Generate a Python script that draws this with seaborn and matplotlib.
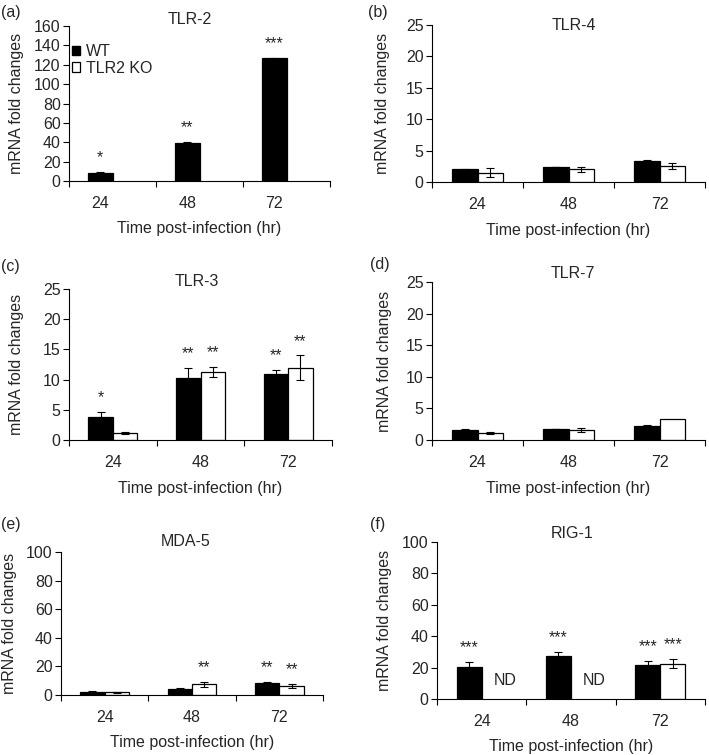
import numpy as np
import pandas as pd
import matplotlib
matplotlib.use('Agg')
import matplotlib.pyplot as plt
import seaborn as sns
from matplotlib.patches import Patch

# ---- data ----
times = ['24', '48', '72']
groups = ['WT', 'TLR2 KO']
nan = np.nan

tlr2_wt = [8.6, 39.6, 126.6]
tlr2_wt_err = [0.6, 0.6, 0.8]
tlr2_ko = [nan, nan, nan]
tlr2_ko_err = [0, 0, 0]
tlr2_wt_sig = ['*', '**', '***']
tlr2_ko_sig = ['', '', '']

tlr4_wt = [2.0, 2.4, 3.35]
tlr4_wt_err = [0.05, 0.05, 0.1]
tlr4_ko = [1.5, 2.0, 2.55]
tlr4_ko_err = [0.65, 0.45, 0.55]
tlr4_wt_sig = ['', '', '']
tlr4_ko_sig = ['', '', '']

tlr3_wt = [3.8, 10.3, 10.95]
tlr3_wt_err = [0.9, 1.6, 0.7]
tlr3_ko = [1.2, 11.2, 12.0]
tlr3_ko_err = [0.15, 0.85, 2.0]
tlr3_wt_sig = ['*', '**', '**']
tlr3_ko_sig = ['', '**', '**']

tlr7_wt = [1.6, 1.75, 2.2]
tlr7_wt_err = [0.08, 0.05, 0.12]
tlr7_ko = [1.15, 1.6, 3.3]
tlr7_ko_err = [0.15, 0.3, 0.0]
tlr7_wt_sig = ['', '', '']
tlr7_ko_sig = ['', '', '']

mda5_wt = [2.3, 4.4, 8.6]
mda5_wt_err = [0.2, 0.3, 0.5]
mda5_ko = [1.9, 7.4, 6.5]
mda5_ko_err = [0.2, 1.5, 1.5]
mda5_wt_sig = ['', '', '**']
mda5_ko_sig = ['', '**', '**']

rig1_wt = [20.7, 27.7, 21.8]
rig1_wt_err = [2.7, 2.5, 2.5]
rig1_ko = [nan, nan, 22.6]
rig1_ko_err = [0, 0, 3.0]
rig1_wt_sig = ['***', '***', '***']
rig1_ko_sig = ['', '', '***']

W, H = 709, 755
FS = 11.5

sns.set_style('ticks')
plt.rcParams['font.family'] = ['Liberation Sans', 'DejaVu Sans']
plt.rcParams['axes.linewidth'] = 0.8

fig = plt.figure(figsize=(W / 100, H / 100), dpi=100)


def px_axes(left, right, top, bottom):
    return fig.add_axes([left / W, 1 - bottom / H, (right - left) / W, (bottom - top) / H])


def draw_panel(box, letter, letter_xy, title, title_xy, ylab_x, wt, wt_err, ko, ko_err,
               wt_sig, ko_sig, ymax, ystep, show_nd=False, shift_labels=False, legend=False):
    left, right, top, bottom = box
    ax = px_axes(left, right, top, bottom)
    rows = []
    for i, t in enumerate(times):
        for g, vals in zip(groups, [wt, ko]):
            if not np.isnan(vals[i]):
                rows.append({'time': t, 'group': g, 'fold': vals[i]})
    df = pd.DataFrame(rows)
    sns.barplot(data=df, x='time', y='fold', hue='group', order=times, hue_order=groups,
                palette={'WT': 'black', 'TLR2 KO': 'white'}, saturation=1,
                edgecolor='black', linewidth=0.9, width=0.56, gap=0, dodge=True,
                errorbar=None, legend=False, ax=ax)
    errs = [wt_err, ko_err]
    sigs = [wt_sig, ko_sig]
    for p in list(ax.patches):
        x = p.get_x() + p.get_width() / 2
        h = p.get_height()
        i = int(round(x))
        g = 0 if x < i else 1
        e = errs[g][i]
        if e > 0:
            ax.errorbar(x, h, yerr=e, fmt='none', ecolor='black', elinewidth=0.8,
                        capsize=2.6, capthick=0.8, zorder=3)
        if sigs[g][i]:
            ax.annotate(sigs[g][i], (x, h + e), xytext=(0, 7), textcoords='offset points',
                        ha='center', va='baseline', fontsize=FS)
    if show_nd:
        for i in range(3):
            if np.isnan(ko[i]):
                ax.annotate('ND', (i + 0.26, 0), xytext=(0, 13), textcoords='offset points',
                            ha='center', va='center', fontsize=FS)

    ax.set_xlim(-0.5, 2.5)
    ax.set_ylim(0, ymax)
    ax.set_yticks(np.arange(0, ymax + 0.1, ystep))
    if shift_labels:
        ax.set_xticks([i - 0.14 for i in range(3)])
        ax.set_xticklabels(times)
    ax.set_xticks([-0.5, 0.5, 1.5, 2.5], minor=True)
    ax.tick_params(axis='x', which='major', length=0, pad=11, labelsize=FS)
    ax.tick_params(axis='x', which='minor', length=4, width=0.8, direction='out', color='black')
    ax.tick_params(axis='y', length=4, width=0.8, pad=2, labelsize=FS, color='black')
    sns.despine(ax=ax)
    for s in ['left', 'bottom']:
        ax.spines[s].set_color('black')

    ax.set_xlabel('Time post-infection (hr)', fontsize=FS)
    ax.xaxis.label.set_va('center')
    ax.xaxis.set_label_coords(0.5, -48 / (bottom - top))
    ax.set_ylabel('mRNA fold changes', fontsize=FS)
    ax.yaxis.label.set_va('center')
    ax.yaxis.set_label_coords((ylab_x - left) / (right - left), 0.5)

    fig.text(title_xy[0] / W, 1 - title_xy[1] / H, title, ha='center', va='center', fontsize=FS)
    fig.text(letter_xy[0] / W, 1 - letter_xy[1] / H, letter, ha='left', va='center', fontsize=FS)

    if legend:
        handles = [Patch(facecolor='black', edgecolor='black', label='WT'),
                   Patch(facecolor='white', edgecolor='black', linewidth=0.9, label='TLR2 KO')]
        ax.legend(handles=handles, loc='upper left',
                  bbox_to_anchor=((72 - left) / (right - left), (bottom - 44) / (bottom - top)),
                  frameon=False, fontsize=FS, handlelength=0.5, handleheight=0.55,
                  handletextpad=0.4, labelspacing=0.1, borderpad=0, borderaxespad=0)
    return ax


draw_panel((69, 330, 26, 181), '(a)', (1, 13), 'TLR-2', (190, 20), 17,
           tlr2_wt, tlr2_wt_err, tlr2_ko, tlr2_ko_err, tlr2_wt_sig, tlr2_ko_sig,
           160, 20, shift_labels=True, legend=True)
draw_panel((432, 705, 25, 182), '(b)', (368, 13), 'TLR-4', (574, 25), 382,
           tlr4_wt, tlr4_wt_err, tlr4_ko, tlr4_ko_err, tlr4_wt_sig, tlr4_ko_sig, 25, 5)
draw_panel((69, 332, 289, 440), '(c)', (1, 267), 'TLR-3', (197, 282), 17,
           tlr3_wt, tlr3_wt_err, tlr3_ko, tlr3_ko_err, tlr3_wt_sig, tlr3_ko_sig, 25, 5)
draw_panel((432, 705, 282, 440), '(d)', (370, 265), 'TLR-7', (573, 274), 384,
           tlr7_wt, tlr7_wt_err, tlr7_ko, tlr7_ko_err, tlr7_wt_sig, tlr7_ko_sig, 25, 5)
draw_panel((61, 323, 552, 695), '(e)', (1, 525), 'MDA-5', (186, 541), 9,
           mda5_wt, mda5_wt_err, mda5_ko, mda5_ko_err, mda5_wt_sig, mda5_ko_sig, 100, 20)
draw_panel((437, 705, 542, 699), '(f)', (370, 524), 'RIG-1', (572, 534), 384,
           rig1_wt, rig1_wt_err, rig1_ko, rig1_ko_err, rig1_wt_sig, rig1_ko_sig, 100, 20,
           show_nd=True)

fig.savefig('out.png', dpi=100)
